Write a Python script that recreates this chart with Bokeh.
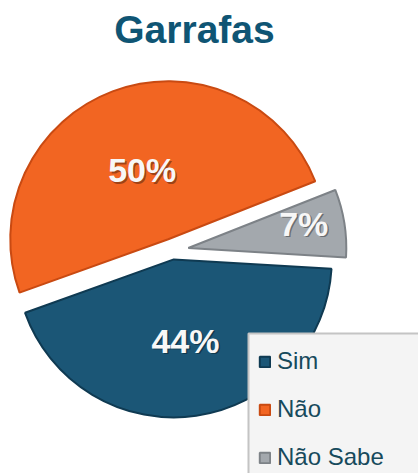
import numpy as np
from bokeh.plotting import figure
from bokeh.models import ColumnDataSource, Range1d, Legend, LegendItem
from bokeh.core.properties import value
from bokeh.embed import file_html
from bokeh.resources import INLINE

# ---- data ----
title_text = "Garrafas"
labels = ["Sim", "Não", "Não Sabe"]
values = [44, 50, 7]
pct_labels = ["44%", "50%", "7%"]
colors = ["#1b5676", "#f26522", "#a3a8ad"]
edge_colors = ["#0f3a52", "#c94a12", "#7d8287"]

# ---- layout / style constants ----
W, H = 418, 473
CX, CY = 172, 223          # pie centre (figure px)
R = 158
START_DEG = -160.25         # where the first (anticlockwise) slice starts
draw_order = [0, 2, 1]      # anticlockwise order of slices
explode = [9, 12, 16]
label_r = [82, 74, 118]
label_shift_deg = [0, 0, 2.5]

p = figure(width=W, height=H, x_range=Range1d(0, W), y_range=Range1d(0, H),
           output_backend="svg", toolbar_location=None,
           x_axis_location=None, y_axis_location=None, min_border=0,
           outline_line_color=None, background_fill_color="white",
           border_fill_color="white")
p.grid.visible = False

total = float(sum(values))
xs, ys, st, en, lx, ly = [0]*3, [0]*3, [0]*3, [0]*3, [0]*3, [0]*3
cur = np.deg2rad(START_DEG)
for i in draw_order:
    span = values[i] / total * 2 * np.pi
    s, e = cur, cur + span
    m = (s + e) / 2
    xs[i] = CX + explode[i] * np.cos(m)
    ys[i] = CY + explode[i] * np.sin(m)
    st[i], en[i] = s, e
    ml = m + np.deg2rad(label_shift_deg[i])
    lx[i] = CX + (label_r[i] + explode[i]) * np.cos(ml)
    ly[i] = CY + (label_r[i] + explode[i]) * np.sin(ml)
    cur = e

src = ColumnDataSource(dict(x=xs, y=ys, start=st, end=en, color=colors,
                            edge=edge_colors, label=labels,
                            lx=lx, ly=ly, pct=pct_labels,
                            sx=[v + 1.5 for v in lx], sy=[v - 1.5 for v in ly]))

r = p.wedge(x="x", y="y", radius=R, start_angle="start", end_angle="end",
            fill_color="color", line_color="edge", line_width=2, source=src)

# label shadows then labels
p.text(x="sx", y="sy", text="pct", source=src, text_color="#000000", text_alpha=0.35,
       text_font=value("Liberation Sans"), text_font_style="bold",
       text_font_size="34px", text_align="center", text_baseline="middle")
p.text(x="lx", y="ly", text="pct", source=src, text_color="#f7f7f7",
       text_font=value("Liberation Sans"), text_font_style="bold",
       text_font_size="34px", text_align="center", text_baseline="middle")

# title
p.text(x=[194], y=[444], text=[title_text], text_color="#0f5574",
       text_font=value("Liberation Sans"), text_font_style="bold",
       text_font_size="39px", text_align="center", text_baseline="alphabetic")

# legend box (drawn beneath the legend, on top of the pie)
p.quad(left=[248], right=[430], bottom=[-20], top=[140], fill_color="#f4f4f4",
       line_color="#c4c4c4", line_width=2, level="annotation")

legend = Legend(items=[LegendItem(label=labels[i], renderers=[r], index=i) for i in range(3)],
                location=(258, 2), orientation="vertical",
                label_text_font="Liberation Sans", label_text_font_size="24px",
                label_text_color="#174a5c", glyph_width=13, glyph_height=13,
                label_standoff=6, spacing=20, padding=10, label_height=26,
                margin=0, background_fill_alpha=0, border_line_color=None)
p.add_layout(legend)

open("out.html", "w").write(file_html(p, INLINE))
